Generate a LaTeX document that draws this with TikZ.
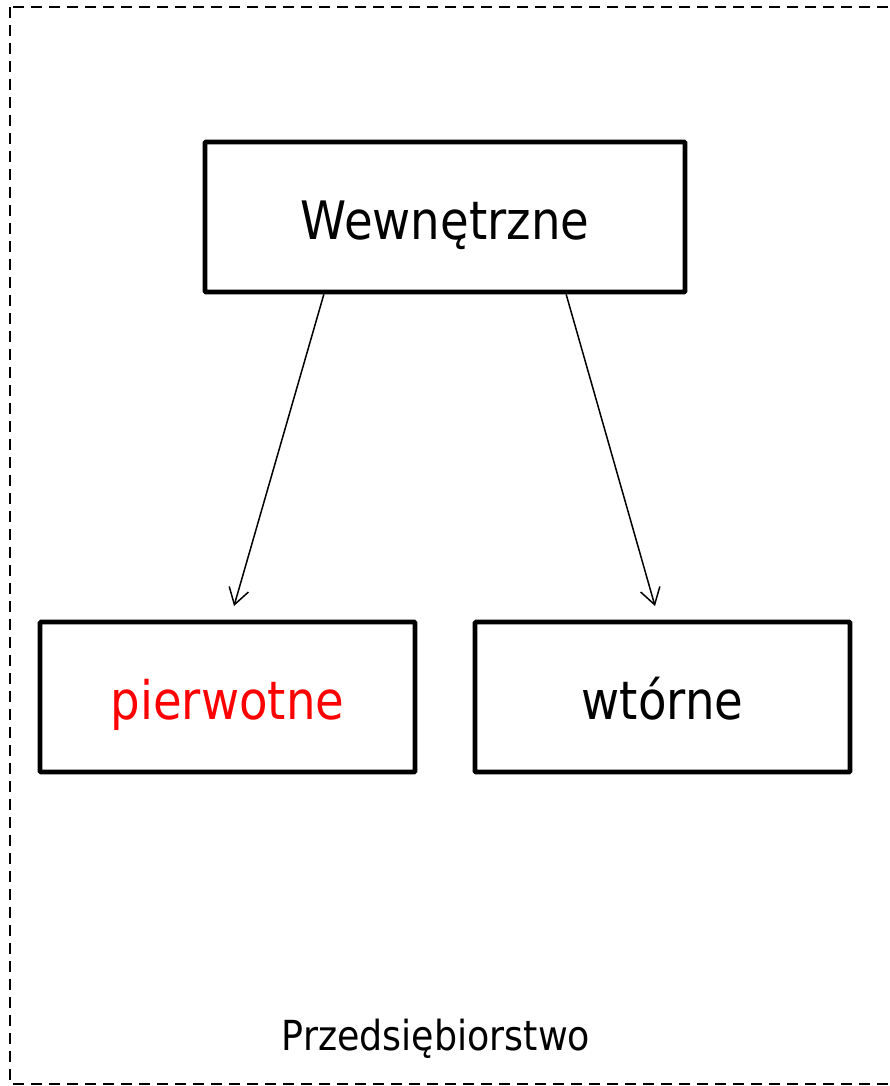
\documentclass[tikz,border=0pt]{standalone}
\usepackage{fontspec}
\setmainfont{DejaVu Sans}[FakeStretch=0.88]
\usetikzlibrary{arrows.meta,calc}
\begin{document}
\begin{tikzpicture}[x=1pt,y=-1pt,
  frame/.style={line width=1.9pt,dash pattern=on 11pt off 7pt},
  box/.style={draw,line width=4.6pt,rounded corners=1pt,minimum height=150pt,
    inner sep=0pt,font=\fontsize{53}{60}\selectfont,text height=44pt,text depth=0pt},
  arr/.style={line width=1.5pt,-{Straight Barb[length=16pt,width=20pt,line width=1.5pt]}}]
\useasboundingbox (0,0) rectangle (890,1086);
\draw[frame] (10,7) rectangle (902,1084);
\node[box,minimum width=480pt] (w) at (445,217) {Wewnętrzne};
\node[box,minimum width=375pt,text=red] (p) at (227.5,697) {pierwotne};
\node[box,minimum width=375pt] (t) at (662.5,697) {wtórne};
\node[anchor=base,inner sep=0pt,font=\fontsize{41.4}{48}\selectfont] (f) at (436,1050) {Przedsiębiorstwo};
\coordinate (ws1) at ($(w.south west)!0.25!(w.south east)$);
\coordinate (ws2) at ($(w.south west)!0.75!(w.south east)$);
\coordinate (pe) at (234,606);
\coordinate (te) at (655,606);
\draw[arr] (ws1) -- (pe);
\draw[arr] (ws2) -- (te);
\end{tikzpicture}
\end{document}
